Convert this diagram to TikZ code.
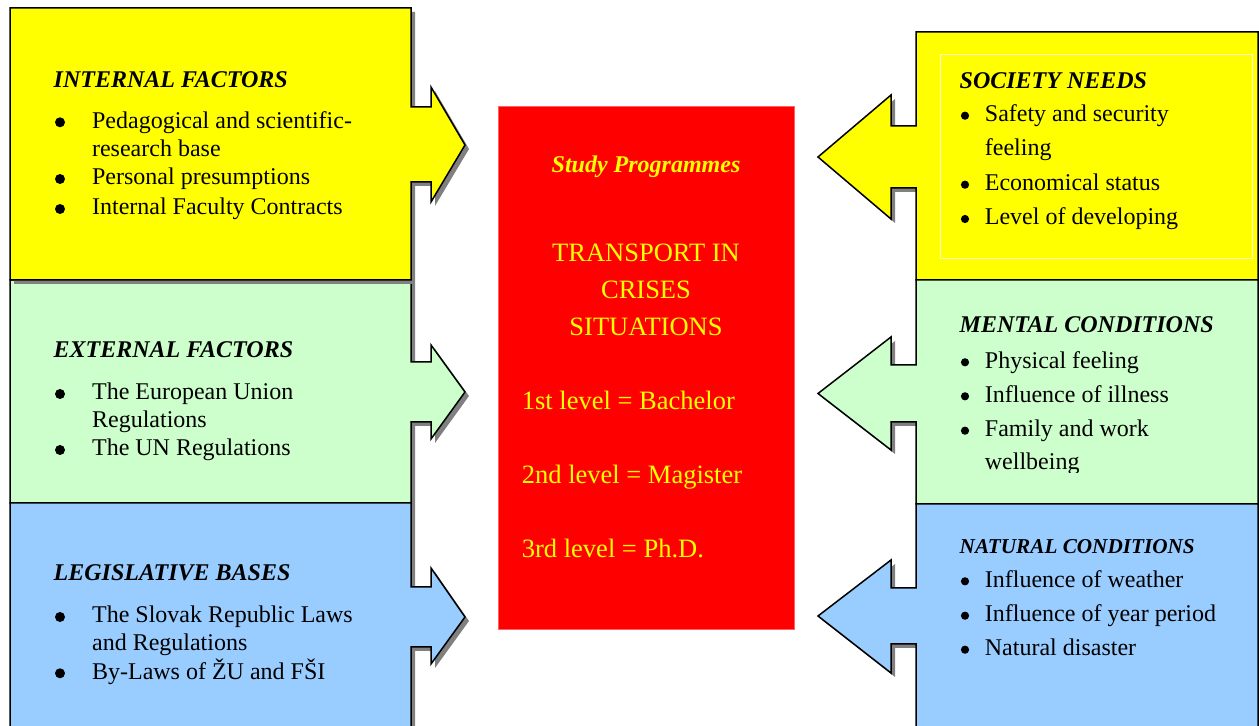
\documentclass[tikz,border=0pt]{standalone}
\usepackage{fontspec}
\setmainfont{Liberation Serif}
\definecolor{yel}{HTML}{FFFF00}
\definecolor{grn}{HTML}{CCFFCC}
\definecolor{blu}{HTML}{99CCFF}
\definecolor{shd}{HTML}{808080}
\definecolor{redb}{HTML}{FF0000}
\definecolor{redline}{HTML}{FF6060}
\begin{document}
\begin{tikzpicture}[x=0.5pt,y=-0.5pt,
  panel/.style={draw=black,line width=0.75pt,line join=miter},
  shadowfill/.style={fill=shd,draw=none},
  headtxt/.style={font=\fontsize{12}{14}\selectfont\bfseries\itshape,anchor=base west,inner sep=0pt},
  itemtxt/.style={font=\fontsize{12}{14}\selectfont,anchor=base west,inner sep=0pt},
  dotL/.style={circle,fill=black,draw=none,inner sep=0pt,minimum size=5pt},
  dotR/.style={circle,fill=black,draw=none,inner sep=0pt,minimum size=4.1pt},
  redtxt/.style={text=yel,inner sep=0pt,font=\fontsize{13.25}{16}\selectfont}
]
\useasboundingbox (0,0) rectangle (1259,726);

% ---------- left column ----------
% green (external)
\path[shadowfill,shift={(4,4)}] (10,280) -- (411,280) -- (411,362) -- (431,362) -- (431,345) -- (465,392) -- (431,439) -- (431,422) -- (411,422) -- (411,503) -- (10,503) -- cycle;
\path[panel,fill=grn] (10,280) -- (411,280) -- (411,362) -- (431,362) -- (431,345) -- (465,392) -- (431,439) -- (431,422) -- (411,422) -- (411,503) -- (10,503) -- cycle;
% blue (legislative)
\path[shadowfill,shift={(4,4)}] (10,503) -- (411,503) -- (411,587) -- (431,587) -- (431,568) -- (465,617) -- (431,664) -- (431,647) -- (411,647) -- (411,745) -- (10,745) -- cycle;
\path[panel,fill=blu] (10,503) -- (411,503) -- (411,587) -- (431,587) -- (431,568) -- (465,617) -- (431,664) -- (431,647) -- (411,647) -- (411,745) -- (10,745) -- cycle;
% yellow (internal)
\path[shadowfill,shift={(4,4)}] (10,8) -- (411,8) -- (411,107) -- (431,107) -- (431,87) -- (465,145) -- (431,202) -- (431,182) -- (411,182) -- (411,280) -- (10,280) -- cycle;
\path[panel,fill=yel] (10,8) -- (411,8) -- (411,107) -- (431,107) -- (431,87) -- (465,145) -- (431,202) -- (431,182) -- (411,182) -- (411,280) -- (10,280) -- cycle;

% ---------- right column ----------
% yellow (society needs)
\path[shadowfill,shift={(4,4)}] (916,126) -- (891,126) -- (891,95) -- (818,157) -- (891,219) -- (891,188) -- (916,188) -- cycle;
\path[panel,fill=yel] (1258,32) -- (916,32) -- (916,126) -- (891,126) -- (891,95) -- (818,157) -- (891,219) -- (891,188) -- (916,188) -- (916,280) -- (1258,280) -- cycle;
\draw[white!80!yel,line width=0.4pt] (940,54) rectangle (1252,258);
% green (mental)
\path[shadowfill,shift={(4,4)}] (916,365) -- (891,365) -- (891,337) -- (818,393.5) -- (891,450) -- (891,422) -- (916,422) -- cycle;
\path[panel,fill=grn] (1258,280) -- (916,280) -- (916,365) -- (891,365) -- (891,337) -- (818,393.5) -- (891,450) -- (891,422) -- (916,422) -- (916,504) -- (1258,504) -- cycle;
% blue (natural)
\path[shadowfill,shift={(4,4)}] (916,588) -- (891,588) -- (891,560) -- (818,616) -- (891,673) -- (891,644) -- (916,644) -- cycle;
\path[panel,fill=blu] (1258,504) -- (916,504) -- (916,588) -- (891,588) -- (891,560) -- (818,616) -- (891,673) -- (891,644) -- (916,644) -- (916,745) -- (1258,745) -- cycle;

% ---------- centre ----------
\path[fill=redb,draw=redline,line width=0.4pt] (498.5,106) rectangle (794.5,629.5);
\node[redtxt,font=\fontsize{12}{14}\selectfont\bfseries\itshape,anchor=base] (sp) at (646,172.3) {Study Programmes};
\node[redtxt,anchor=base] (t1) at (646,261.7) {TRANSPORT IN};
\node[redtxt,anchor=base] (t2) at (646,299) {CRISES};
\node[redtxt,anchor=base] (t3) at (646,335.7) {SITUATIONS};
\node[redtxt,anchor=base west] (l1) at (521.5,410) {1st level = Bachelor};
\node[redtxt,anchor=base west] (l2) at (521.5,483.3) {2nd level = Magister};
\node[redtxt,anchor=base west] (l3) at (521.5,557.3) {3rd level = Ph.D.};

% ---------- left texts ----------
\node[headtxt] (ih) at (53.3,87.3) {INTERNAL FACTORS};
\node[dotL] (ib1) at (60,122.3) {};
\node[itemtxt] (i1) at (91.7,128.3) {Pedagogical and scientific-};
\node[itemtxt] (i1b) at (91.7,156.7) {research base};
\node[dotL] (ib2) at (60,179) {};
\node[itemtxt] (i2) at (91.7,185) {Personal presumptions};
\node[dotL] (ib3) at (60,209) {};
\node[itemtxt] (i3) at (91.7,215) {Internal Faculty Contracts};

\node[headtxt] (eh) at (53.3,357.3) {EXTERNAL FACTORS};
\node[dotL] (eb1) at (60,394) {};
\node[itemtxt] (e1) at (91.7,400) {The European Union};
\node[itemtxt] (e1b) at (91.7,427.3) {Regulations};
\node[dotL] (eb2) at (60,450) {};
\node[itemtxt] (e2) at (91.7,456) {The UN Regulations};

\node[headtxt] (lh) at (53.3,580.7) {LEGISLATIVE BASES};
\node[dotL] (lb1) at (60,617) {};
\node[itemtxt] (lg1) at (91.7,623) {The Slovak Republic Laws};
\node[itemtxt] (lg1b) at (91.7,650.7) {and Regulations};
\node[dotL] (lb2) at (60,673.3) {};
\node[itemtxt] (lg2) at (91.7,679.3) {By-Laws of ŽU and FŠI};

% ---------- right texts ----------
\node[headtxt] (sh) at (959.3,88.3) {SOCIETY NEEDS};
\node[dotR] (sb1) at (965,115.7) {};
\node[itemtxt] (s1) at (984.5,121.7) {Safety and security};
\node[itemtxt] (s1b) at (984.5,156) {feeling};
\node[dotR] (sb2) at (965,184.7) {};
\node[itemtxt] (s2) at (984.5,190.7) {Economical status};
\node[dotR] (sb3) at (965,219) {};
\node[itemtxt] (s3) at (984.5,225) {Level of developing};

\node[headtxt] (mh) at (959.3,332.7) {MENTAL CONDITIONS};
\node[dotR] (mb1) at (965,362.3) {};
\node[itemtxt] (m1) at (984.5,368.3) {Physical feeling};
\node[dotR] (mb2) at (965,396.3) {};
\node[itemtxt] (m2) at (984.5,402.3) {Influence of illness};
\node[dotR] (mb3) at (965,430.7) {};
\node[itemtxt] (m3) at (984.5,436.7) {Family and work};
\begin{scope}
\clip (940,440) rectangle (1250,472.5);
\node[itemtxt] (m3b) at (984.5,470) {wellbeing};
\end{scope}

\node[headtxt,font=\fontsize{10.6}{13}\selectfont\bfseries\itshape] (nh) at (959.3,554) {NATURAL CONDITIONS};
\node[dotR] (nb1) at (965,581.3) {};
\node[itemtxt] (n1) at (984.5,587.3) {Influence of weather};
\node[dotR] (nb2) at (965,615.7) {};
\node[itemtxt] (n2) at (984.5,621.7) {Influence of year period};
\node[dotR] (nb3) at (965,649.7) {};
\node[itemtxt] (n3) at (984.5,655.7) {Natural disaster};
\end{tikzpicture}
\end{document}
